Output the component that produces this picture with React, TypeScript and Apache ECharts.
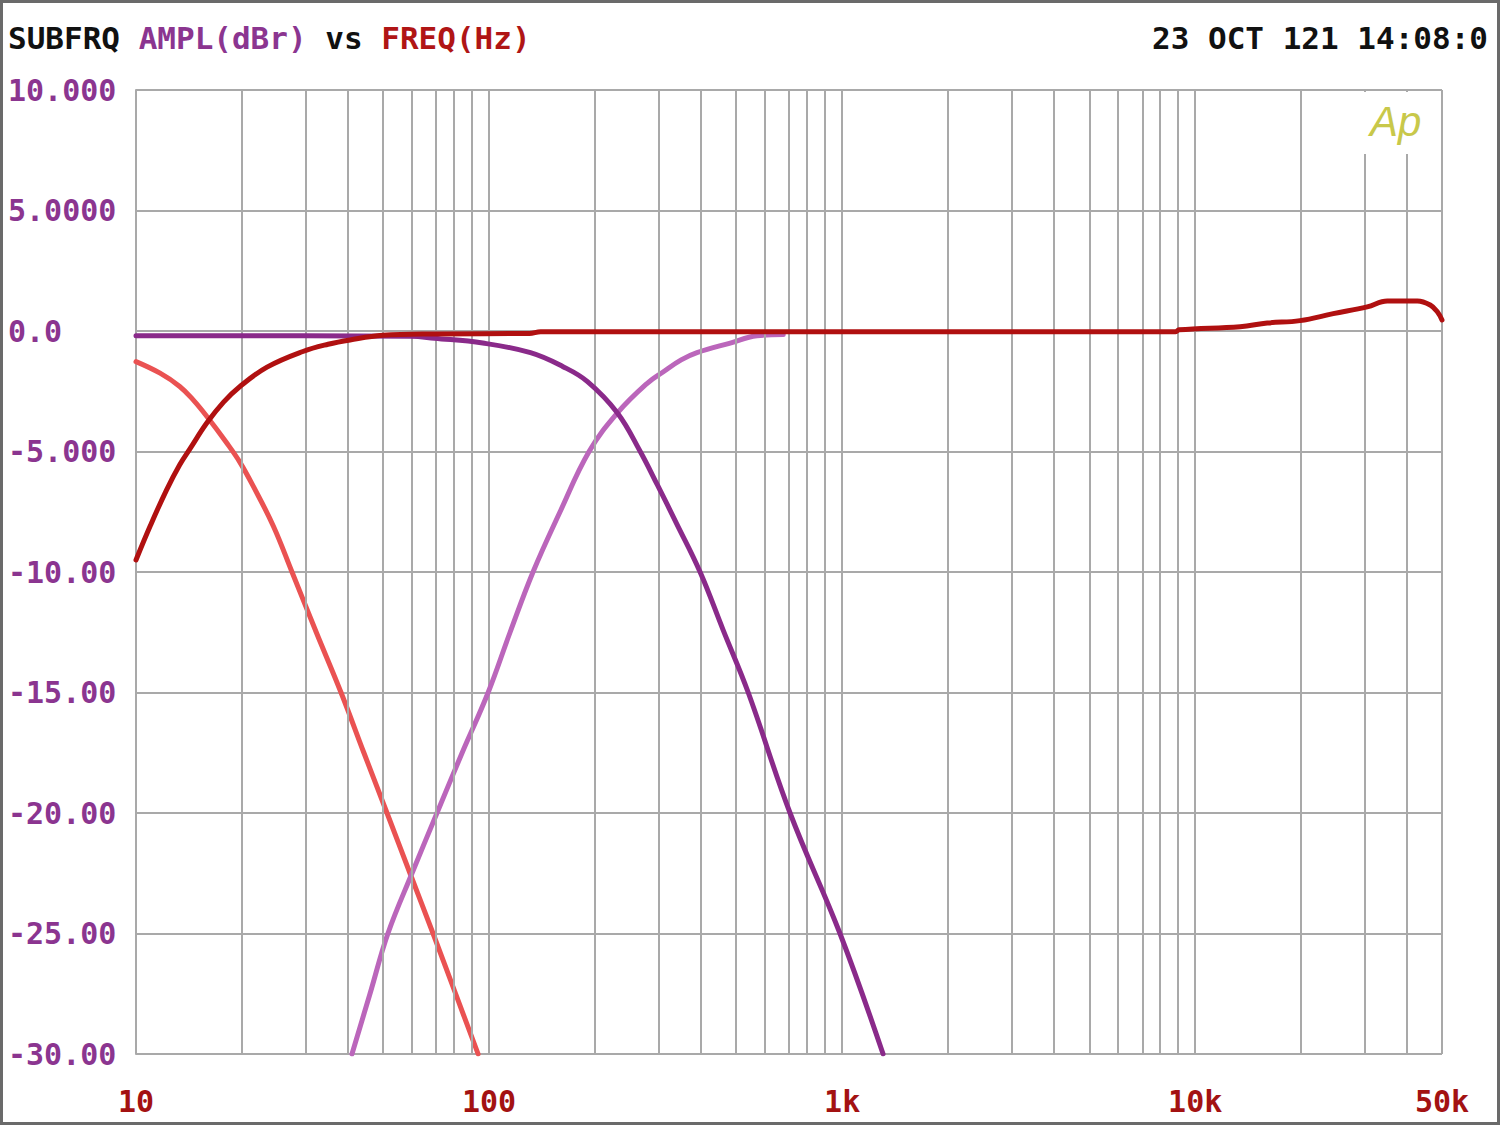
import React, { useEffect, useRef } from "react";
import * as echarts from "echarts";

// ---- data (frequency in Hz, amplitude in dBr) ----
const mainFreq = [10, 11, 12.2, 13.3, 14.2, 15.9, 17.7, 19.7, 23.5, 29.7, 35, 40.4, 50, 70, 130, 140, 1000, 8800, 9000, 13400, 16000, 19800, 24600, 30700, 35000, 42600, 46300, 48500, 50000];
const mainDb = [-9.5, -8.05, -6.6, -5.55, -4.9, -3.8, -2.95, -2.3, -1.5, -0.85, -0.55, -0.37, -0.18, -0.12, -0.1, -0.03, -0.03, -0.03, 0.05, 0.18, 0.33, 0.43, 0.72, 1.0, 1.25, 1.25, 1.08, 0.8, 0.46];

const subFreq = [10, 11.7, 13.3, 14.5, 15.9, 18.1, 19.7, 21.5, 24.5, 27.66, 32.4, 38.08, 44.2, 51.4, 59.7, 69.4, 80.4, 93.1];
const subDb = [-1.27, -1.75, -2.3, -2.85, -3.56, -4.66, -5.45, -6.45, -8.1, -10, -12.5, -15, -17.5, -20, -22.5, -25, -27.5, -30];

const hpFreq = [40.9, 46.0, 51.7, 60.5, 71.2, 83.9, 99.4, 114.7, 133.2, 158.9, 192, 231, 281, 311, 350, 388, 482, 574, 681];
const hpDb = [-30, -27.5, -25, -22.5, -20, -17.5, -15, -12.5, -10, -7.5, -5.0, -3.4, -2.16, -1.7, -1.2, -0.9, -0.5, -0.2, -0.15];

const lpFreq = [10, 30, 60, 70, 96, 131, 162, 190, 231, 268, 300, 340, 396, 460, 542, 712, 986, 1306];
const lpDb = [-0.2, -0.2, -0.22, -0.3, -0.5, -0.9, -1.48, -2.1, -3.4, -5.0, -6.4, -8.0, -10, -12.4, -15, -20, -25, -30];

const gridFreqs = [
  20, 30, 40, 50, 60, 70, 80, 90,
  200, 300, 400, 500, 600, 700, 800, 900,
  2000, 3000, 4000, 5000, 6000, 7000, 8000, 9000,
  20000, 30000, 40000,
];

const xTickFreqs = [10, 100, 1000, 10000, 50000];
const xTickLabels = ["10", "100", "1k", "10k", "50k"];
const yTickValues = [10, 5, 0, -5, -10, -15, -20, -25, -30];
const yTickLabels = ["10.000", "5.0000", "0.0", "-5.000", "-10.00", "-15.00", "-20.00", "-25.00", "-30.00"];

const FONT = "'DejaVu Sans Mono', 'Liberation Mono', monospace";
const GRID_COLOR = "#a9a9a9";

function toPairs(f: number[], d: number[]) {
  return f.map((v, i) => [Math.log10(v), d[i]]);
}

export default function App() {
  const ref = useRef<HTMLDivElement>(null);

  useEffect(() => {
    document.body.style.margin = "0";
    const chart = echarts.init(ref.current!, null, { renderer: "svg" });

    const lineSeries = (name: string, data: number[][], color: string, z: number) => ({
      name,
      type: "line",
      data,
      showSymbol: false,
      symbol: "none",
      smooth: 0.4,
      silent: true,
      z,
      lineStyle: { color, width: 5, cap: "round", join: "round" },
    });

    const option: any = {
      animation: false,
      backgroundColor: "#ffffff",
      grid: { left: 136, top: 90, right: 58, bottom: 71, containLabel: false },
      xAxis: {
        type: "value",
        min: 1,
        max: Math.log10(50000),
        interval: 1,
        axisLine: { show: true, lineStyle: { color: GRID_COLOR, width: 2 } },
        axisTick: { show: false },
        splitLine: { show: true, lineStyle: { color: GRID_COLOR, width: 2 } },
        axisLabel: {
          show: true,
          margin: 32,
          showMaxLabel: true,
          showMinLabel: true,
          color: "#a31212",
          fontFamily: FONT,
          fontWeight: "bold",
          fontSize: 30,
          formatter: (v: number) => {
            for (let i = 0; i < xTickFreqs.length; i++) {
              if (Math.abs(Math.log10(xTickFreqs[i]) - v) < 0.01) return xTickLabels[i];
            }
            return "";
          },
        },
      },
      yAxis: {
        type: "value",
        min: -30,
        max: 10,
        interval: 5,
        axisLine: { show: true, lineStyle: { color: GRID_COLOR, width: 2 } },
        axisTick: { show: false },
        splitLine: { show: true, lineStyle: { color: GRID_COLOR, width: 2 } },
        axisLabel: {
          show: true,
          align: "left",
          margin: 128,
          color: "#8b3590",
          fontFamily: FONT,
          fontWeight: "bold",
          fontSize: 30,
          formatter: (v: number) => {
            const i = yTickValues.indexOf(v);
            return i >= 0 ? yTickLabels[i] : "";
          },
        },
      },
      series: [
        {
          name: "grid",
          type: "line",
          data: [[1, -100]],
          symbol: "none",
          silent: true,
          z: 1,
          lineStyle: { width: 0, opacity: 0 },
          markLine: {
            silent: true,
            symbol: ["none", "none"],
            label: { show: false },
            lineStyle: { color: GRID_COLOR, width: 2, type: "solid" },
            data: gridFreqs.map((f) => ({ xAxis: Math.log10(f) })),
          },
        },
        lineSeries("sub", toPairs(subFreq, subDb), "#ea5252", 3),
        lineSeries("hp", toPairs(hpFreq, hpDb), "#bb66bb", 4),
        lineSeries("lp", toPairs(lpFreq, lpDb), "#8a2a8a", 5),
        lineSeries("main", toPairs(mainFreq, mainDb), "#b01010", 6),
      ],
      graphic: [
        {
          type: "rect",
          z: 100,
          shape: { x: 1352, y: 92, width: 80, height: 62 },
          style: { fill: "#ffffff" },
          silent: true,
        },
        {
          type: "text",
          z: 101,
          left: 1370,
          top: 100,
          style: {
            text: "Ap",
            fill: "#c8c84a",
            font: "italic 42px 'Liberation Sans', sans-serif",
          },
          silent: true,
        },
        {
          type: "text",
          z: 101,
          left: 8,
          top: 22,
          style: {
            text: "{k|SUBFRQ }{p|AMPL(dBr)}{k| vs }{r|FREQ(Hz)}",
            rich: {
              k: { fill: "#111111", font: `bold 31px ${FONT}` },
              p: { fill: "#8b3590", font: `bold 31px ${FONT}` },
              r: { fill: "#b01515", font: `bold 31px ${FONT}` },
            },
          },
          silent: true,
        },
        {
          type: "text",
          z: 101,
          right: 12,
          top: 22,
          style: {
            text: "23 OCT 121 14:08:0",
            fill: "#111111",
            font: `bold 31px ${FONT}`,
          },
          silent: true,
        },
        {
          type: "rect",
          z: 102,
          shape: { x: 1.5, y: 1.5, width: 1497, height: 1122 },
          style: { fill: "none", stroke: "#6a6a6a", lineWidth: 3 },
          silent: true,
        },
      ],
    };

    chart.setOption(option);
    return () => chart.dispose();
  }, []);

  return <div ref={ref} style={{ width: 1500, height: 1125 }} />;
}
